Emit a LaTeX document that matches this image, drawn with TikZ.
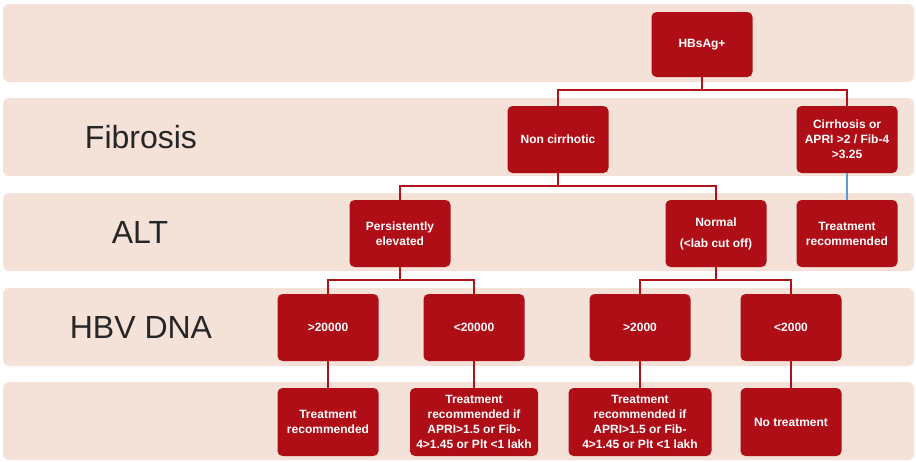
\documentclass[tikz,border=0pt]{standalone}
\usepackage{fontspec}
\setmainfont{Liberation Sans}
\usepackage{tikz}
\usetikzlibrary{positioning}
\definecolor{bandpeach}{HTML}{F4E1D7}
\definecolor{boxred}{HTML}{B00E17}
\definecolor{linkred}{HTML}{B0121A}
\definecolor{linkblue}{HTML}{5B9BD5}
\tikzset{%
    rowband/.style={fill=bandpeach, rounded corners=6pt},
    decision/.style={%
        fill=boxred, draw=none, rounded corners=5pt, text=white,
        font=\bfseries\fontsize{12}{15}\selectfont, align=center,
        minimum width=101pt, minimum height=67pt, inner sep=2pt
    },
    rowlabel/.style={font=\fontsize{32}{38}\selectfont, text=black!85},
    link/.style={draw=linkred, line width=2pt}
}

\begin{document}
\begin{tikzpicture}[x=1pt,y=-1pt]
    \useasboundingbox (0,0) rectangle (916,461);
    \foreach \t in {4,98,193,288,382}
    {
    \fill[rowband] (3,\t) rectangle (914,\t+78);
    }
    \node[rowlabel] (fibrosis) at (141,137) {Fibrosis};
    \node[rowlabel] (alt) at (140,232) {ALT};
    \node[rowlabel] (hbvdna) at (141,327) {HBV DNA};

    \node[decision, minimum height=65pt] (hbsag) at (702,44.5) {HBsAg+};
    \node[decision] (noncirr) at (558,139.5) {Non cirrhotic};
    \node[decision] (cirr) at (847,139.5) {Cirrhosis or\\APRI >2 / Fib-4\\>3.25};
    \node[decision] (persist) at (400,233.5) {Persistently\\elevated};
    \node[decision] (normal) at (716,233.5) {Normal\\[6pt](<lab cut off)};
    \node[decision] (treatA) at (847,233.5) {Treatment\\recommended};
    \node[decision] (hi20k) at (328,327.5) {>20000};
    \node[decision] (lo20k) at (474,327.5) {<20000};
    \node[decision] (hi2k) at (640,327.5) {>2000};
    \node[decision] (lo2k) at (791,327.5) {<2000};
    \node[decision, minimum height=68pt] (treatB) at (328,422) {Treatment\\recommended};
    \node[decision, minimum height=68pt, minimum width=128pt] (treatC) at (474,422)
        {Treatment\\recommended if\\APRI>1.5 or Fib-\\4>1.45 or Plt <1 lakh};
    \node[decision, minimum height=68pt, minimum width=143pt] (treatD) at (640,422)
        {Treatment\\recommended if\\APRI>1.5 or Fib-\\4>1.45 or Plt <1 lakh};
    \node[decision, minimum height=68pt] (notreat) at (791,422) {No treatment};

    \draw[link] (hbsag.south) -- ++(0,13) coordinate (forkA);
    \draw[link] (noncirr.north) |- (forkA) -| (cirr.north);
    \draw[link] (noncirr.south) -- ++(0,13) coordinate (forkB);
    \draw[link] (persist.north) |- (forkB) -| (normal.north);
    \draw[link] (persist.south) -- ++(0,13) coordinate (forkC);
    \draw[link] (hi20k.north) |- (forkC) -| (lo20k.north);
    \draw[link] (normal.south) -- ++(0,13) coordinate (forkD);
    \draw[link] (hi2k.north) |- (forkD) -| (lo2k.north);
    \draw[draw=linkblue, line width=1.6pt] (cirr.south) -- (treatA.north);
    \foreach \a/\b in {hi20k/treatB, lo20k/treatC, hi2k/treatD, lo2k/notreat}
    {
    \draw[link] (\a.south) -- (\b.north);
    }
\end{tikzpicture}
\end{document}
